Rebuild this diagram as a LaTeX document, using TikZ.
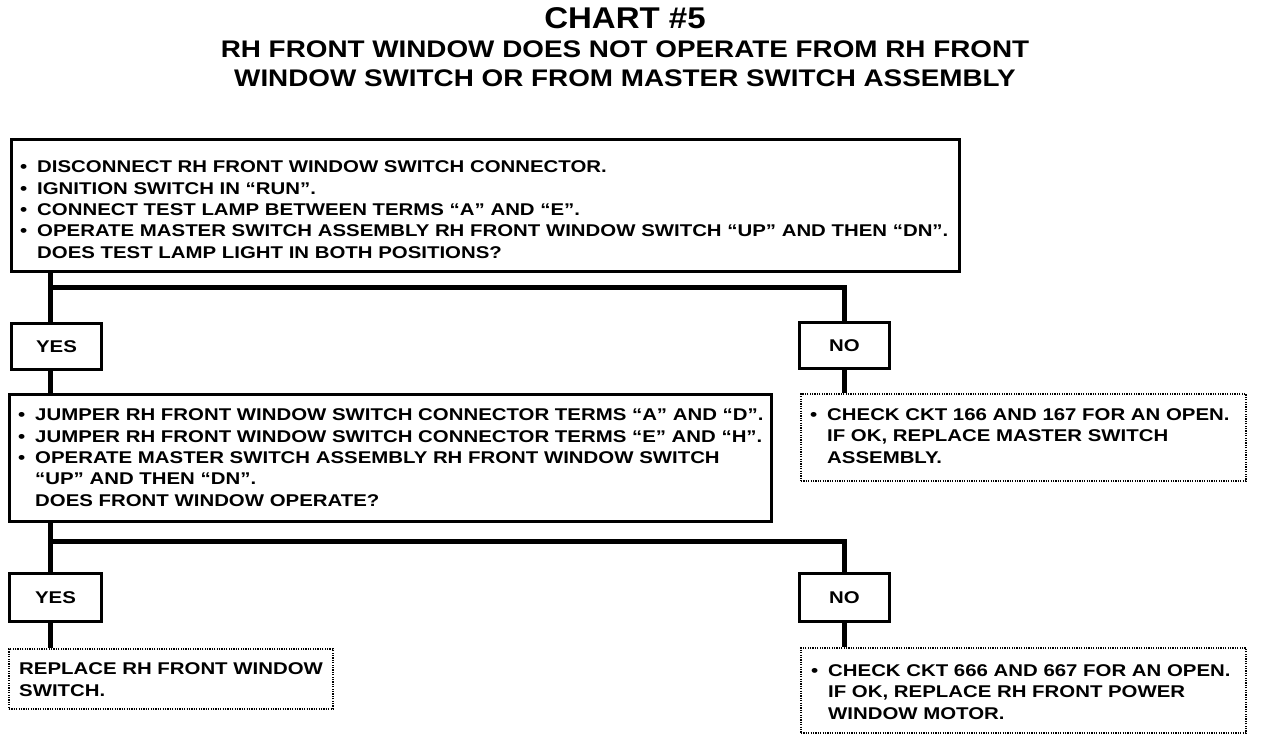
\documentclass[tikz,border=0pt]{standalone}
\usepackage{fontspec}
\setmainfont{Liberation Sans}
\newfontfamily\titlefont{Liberation Sans Bold}[FakeStretch=1.10]
\newfontfamily\subfont{Liberation Sans Bold}[FakeStretch=1.16]
\newfontfamily\bodyfont{Liberation Sans Bold}[FakeStretch=1.20]
\begin{document}
\begin{tikzpicture}[x=1pt,y=1pt,
  body/.style={font=\bodyfont\fontsize{17}{21.3}\selectfont},
  txt/.style={body, anchor=base west, align=left, inner sep=0pt},
  solidbox/.style={draw, line width=3pt, anchor=north west, inner sep=0pt},
  dotbox/.style={draw, line width=1.8pt, dash pattern=on 1.2pt off 1.2pt, anchor=north west, inner sep=0pt},
  ansbox/.style={draw, line width=3pt, anchor=north west, inner sep=0pt, minimum width=90pt, minimum height=46pt, body},
  conn/.style={line width=5pt}]
\useasboundingbox (0,0) rectangle (1264,-740);
\newcommand{\bl}{\makebox[17pt][l]{•}}
\newcommand{\ind}{\hspace*{17pt}}
% titles (base anchor = baseline of the last line)
\node[font=\titlefont\fontsize{30}{32}\selectfont, anchor=base] (title) at (625,-28) {CHART \#5};
\node[font=\subfont\fontsize{24}{28.5}\selectfont, align=center, anchor=base] (sub) at (625,-86)
  {RH FRONT WINDOW DOES NOT OPERATE FROM RH FRONT\\WINDOW SWITCH OR FROM MASTER SWITCH ASSEMBLY};
% box 1
\node[solidbox, minimum width=948pt, minimum height=132pt] (b1) at (10,-138) {};
\node[txt] (t1) at (20,-258)
  {\bl DISCONNECT RH FRONT WINDOW SWITCH CONNECTOR.\\
   \bl IGNITION SWITCH IN “RUN”.\\
   \bl CONNECT TEST LAMP BETWEEN TERMS “A” AND “E”.\\
   \bl OPERATE MASTER SWITCH ASSEMBLY RH FRONT WINDOW SWITCH “UP” AND THEN “DN”.\\
   \ind DOES TEST LAMP LIGHT IN BOTH POSITIONS?};
% answers 1
\node[ansbox] (yes1) at (10,-322) {YES};
\node[ansbox] (no1) at (798,-321) {NO};
% box 2
\node[solidbox, minimum width=762pt, minimum height=127pt] (b2) at (8,-393) {};
\node[txt] (t2) at (18,-506)
  {\bl JUMPER RH FRONT WINDOW SWITCH CONNECTOR TERMS “A” AND “D”.\\
   \bl JUMPER RH FRONT WINDOW SWITCH CONNECTOR TERMS “E” AND “H”.\\
   \bl OPERATE MASTER SWITCH ASSEMBLY RH FRONT WINDOW SWITCH\\
   \ind “UP” AND THEN “DN”.\\
   \ind DOES FRONT WINDOW OPERATE?};
% no result 1
\node[dotbox, minimum width=445pt, minimum height=87pt] (r1) at (800,-393) {};
\node[txt] (tr1) at (810,-463)
  {\bl CHECK CKT 166 AND 167 FOR AN OPEN.\\
   \ind IF OK, REPLACE MASTER SWITCH\\
   \ind ASSEMBLY.};
% answers 2
\node[ansbox, minimum width=92pt, minimum height=48pt] (yes2) at (8,-572) {YES};
\node[ansbox, minimum height=48pt] (no2) at (798,-572) {NO};
% results 2
\node[dotbox, minimum width=324pt, minimum height=60pt] (r2) at (8,-648) {};
\node[txt] (tr2) at (19,-696)
  {REPLACE RH FRONT WINDOW\\SWITCH.};
\node[dotbox, minimum width=445pt, minimum height=85pt] (r3) at (800,-647) {};
\node[txt] (tr3) at (811,-719)
  {\bl CHECK CKT 666 AND 667 FOR AN OPEN.\\
   \ind IF OK, REPLACE RH FRONT POWER\\
   \ind WINDOW MOTOR.};
% connectors
\coordinate (c1) at (50,-287);
\coordinate (c2) at (50,-541);
\draw[conn] (c1 |- b1.south) -- (c1 |- yes1.north);
\draw[conn] (c1) -| (no1.north);
\draw[conn] (c1 |- yes1.south) -- (c1 |- b2.north);
\draw[conn] (no1.south) -- (no1.south |- r1.north);
\draw[conn] (c2 |- b2.south) -- (c2 |- yes2.north);
\draw[conn] (c2) -| (no2.north);
\draw[conn] (c2 |- yes2.south) -- (c2 |- r2.north);
\draw[conn] (no2.south) -- (no2.south |- r3.north);
\end{tikzpicture}
\end{document}
